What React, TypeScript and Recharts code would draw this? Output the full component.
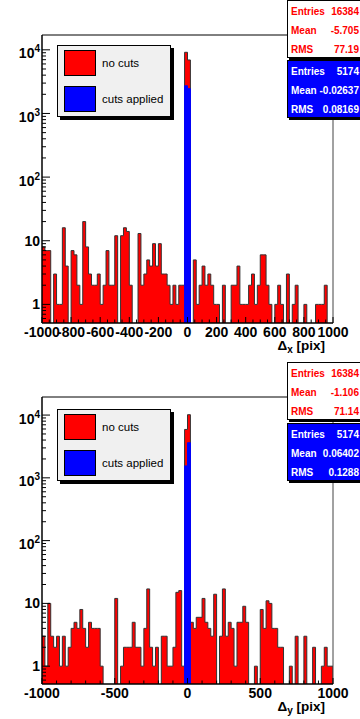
import React from 'react';
import { ComposedChart, Area, XAxis, YAxis, Legend, ReferenceLine } from 'recharts';

const FONT = '"Liberation Sans", Arial, Helvetica, sans-serif';
const RED = '#ff0000';
const BLUE = '#0000ff';

const X_MIN = -1000;
const X_MAX = 1000;
const BIN_WIDTH = 20;
const LOG_FLOOR = 0.1; // empty bins go below the axis and get clipped

// counts per 20 pix bin, -1000 .. 1000 (100 bins), no cuts
const dxNoCuts = [
  8, 7, 7, 0, 3, 1, 1, 16, 4, 0,
  7, 6, 2, 1, 20, 8, 3, 2, 2, 3,
  1, 2, 7, 2, 2, 12, 0, 12, 16, 14,
  2, 0, 0, 13, 2, 3, 5, 4, 9, 4,
  9, 3, 3, 2, 1, 2, 1, 2, 2, 9150,
  6925, 0, 5, 1, 2, 4, 2, 3, 2, 1,
  1, 0, 2, 0, 0, 2, 2, 4, 1, 1,
  1, 2, 3, 1, 2, 6, 6, 2, 1, 0,
  1, 2, 1, 0, 3, 0, 1, 2, 0, 0,
  1, 0, 0, 0, 1, 1, 1, 2, 0, 0,
];

const dyNoCuts = [
  3, 1, 10, 3, 2, 3, 1, 3, 1, 2,
  4, 5, 4, 8, 4, 2, 5, 4, 4, 4,
  1, 0, 0, 0, 0, 12, 0, 1, 2, 2,
  2, 5, 2, 2, 1, 4, 17, 2, 1, 2,
  0, 3, 3, 1, 1, 2, 15, 16, 1, 5900,
  10137, 5, 4, 6, 6, 12, 5, 4, 3, 14,
  0, 3, 17, 3, 5, 4, 1, 5, 5, 9,
  5, 0, 0, 1, 0, 8, 4, 11, 10, 4,
  4, 2, 2, 0, 0, 1, 0, 3, 0, 0,
  3, 0, 0, 2, 0, 0, 1, 2, 1, 1,
];

// with cuts all entries sit in the two bins next to 0
const cutBinLowEdges = [-20, 0];
const dxCutsApplied = [2720, 2454];
const dyCutsApplied = [1550, 3624];

const legendLabels = ['no cuts', 'cuts applied'];
const legendColors = [RED, BLUE];

const statLabels = ['Entries', 'Mean', 'RMS'];
const dxStatsNoCuts = ['16384', '-5.705', '77.19'];
const dxStatsCuts = ['5174', '-0.02637', '0.08169'];
const dyStatsNoCuts = ['16384', '-1.106', '71.14'];
const dyStatsCuts = ['5174', '0.06402', '0.1288'];

const yDecades = [1, 10, 100, 1000, 10000];
const dxMajorTicks = [-1000, -800, -600, -400, -200, 0, 200, 400, 600, 800, 1000];
const dyMajorTicks = [-1000, -500, 0, 500, 1000];

function buildRows(noCuts: number[], cuts: number[]) {
  const rows = noCuts.map((n, i) => {
    const low = X_MIN + i * BIN_WIDTH;
    const k = cutBinLowEdges.indexOf(low);
    return {
      x: low,
      noCuts: n > 0 ? n : LOG_FLOOR,
      cuts: k >= 0 ? cuts[k] : LOG_FLOOR,
    };
  });
  rows.push({ x: X_MAX, noCuts: LOG_FLOOR, cuts: LOG_FLOOR });
  return rows;
}

function logTicks(domain: number[]) {
  const out: number[] = [];
  [0.1, 1, 10, 100, 1000, 10000].forEach((d) => {
    for (let k = 1; k <= 9; k++) {
      const v = +(d * k).toPrecision(3);
      if (v >= domain[0] && v <= domain[1]) out.push(v);
    }
  });
  return out;
}

function linTicks(step: number) {
  const out: number[] = [];
  for (let v = X_MIN; v <= X_MAX; v += step) out.push(v);
  return out;
}

const YTick = (props: any) => {
  const { x, y, payload } = props;
  const v = payload.value;
  const major = yDecades.includes(v);
  const exp = Math.round(Math.log10(v));
  return (
    <g>
      <line x1={x} x2={x + (major ? 8 : 4)} y1={y} y2={y} stroke="#000" />
      {major && (
        <text
          x={x - 2}
          y={exp >= 2 ? y + 8.5 : y + 5}
          textAnchor="end"
          fontFamily={FONT}
          fontWeight="bold"
          fontSize={14}
          fill="#000"
        >
          {exp >= 2 ? (
            <>
              10
              <tspan dy={-6} fontSize={10}>
                {exp}
              </tspan>
            </>
          ) : (
            String(v)
          )}
        </text>
      )}
    </g>
  );
};

const XTick = (props: any) => {
  const { x, y, payload, majors } = props;
  const v = payload.value;
  const major = majors.includes(v);
  return (
    <g>
      <line x1={x} x2={x} y1={y} y2={y - (major ? 6 : 3.5)} stroke="#000" />
      {major && (
        <text
          x={x}
          y={y + 13.5}
          textAnchor="middle"
          fontFamily={FONT}
          fontWeight="bold"
          fontSize={14}
          fill="#000"
        >
          {v}
        </text>
      )}
    </g>
  );
};

const AxisTitle = (props: any) => {
  const { titleX, titleY, sub } = props;
  return (
    <text x={titleX} y={titleY} textAnchor="end" fontFamily={FONT} fontWeight="bold" fontSize={13.5} fill="#000">
      {'\u0394'}
      <tspan dy={3} fontSize={10}>
        {sub}
      </tspan>
      <tspan dy={-3}> [pix]</tspan>
    </text>
  );
};

const LegendBox = () => (
  <div
    style={{
      position: 'relative',
      width: 114,
      height: 72,
      background: '#f0f0f0',
      border: '1px solid #000',
      boxShadow: '3px 3px 0 #000',
      boxSizing: 'border-box',
      fontFamily: FONT,
    }}
  >
    {legendLabels.map((label, i) => (
      <div
        key={label}
        style={{
          position: 'absolute',
          left: 6,
          top: 4 + i * 36,
          height: 26,
          display: 'flex',
          alignItems: 'center',
        }}
      >
        <span
          style={{
            width: 32,
            height: 26,
            background: legendColors[i],
            border: '1px solid #000',
            boxSizing: 'border-box',
          }}
        />
        <span style={{ marginLeft: 6, fontSize: 11.5, color: '#000', whiteSpace: 'nowrap' }}>{label}</span>
      </div>
    ))}
  </div>
);

const StatBox = ({ top, values, fill, color }: { top: number; values: string[]; fill: string; color: string }) => (
  <div
    style={{
      position: 'absolute',
      left: 287,
      top,
      width: 76,
      height: 58,
      background: fill,
      border: '1px solid #000',
      boxShadow: '2px 2px 0 #000',
      boxSizing: 'border-box',
      color,
      fontFamily: FONT,
      fontWeight: 'bold',
      fontSize: 10,
    }}
  >
    {statLabels.map((label, i) => (
      <div
        key={label}
        style={{
          position: 'absolute',
          left: 3,
          right: 3,
          top: 4 + i * 19,
          height: 14,
          lineHeight: '14px',
          display: 'flex',
          justifyContent: 'space-between',
        }}
      >
        <span>{label}</span>
        <span>{values[i]}</span>
      </div>
    ))}
  </div>
);

const HistPanel = ({
  noCuts,
  cuts,
  majors,
  minorStep,
  yDomain,
  marginTop,
  axisHeight,
  sub,
  legendTop,
  statsNoCuts,
  statsCuts,
  statTops,
}: {
  noCuts: number[];
  cuts: number[];
  majors: number[];
  minorStep: number;
  yDomain: number[];
  marginTop: number;
  axisHeight: number;
  sub: string;
  legendTop: number;
  statsNoCuts: string[];
  statsCuts: string[];
  statTops: number[];
}) => {
  const rows = buildRows(noCuts, cuts);
  const plotBottom = 359 - axisHeight;
  return (
    <div style={{ position: 'relative', width: 360, height: 359 }}>
      <ComposedChart
        width={360}
        height={359}
        data={rows}
        margin={{ top: marginTop, right: 27, bottom: 0, left: 0 }}
      >
        <Area
          type="stepAfter"
          dataKey="noCuts"
          name="no cuts"
          fill={RED}
          fillOpacity={1}
          stroke="#333"
          strokeWidth={1}
          baseValue={yDomain[0]}
          dot={false}
          activeDot={false}
          isAnimationActive={false}
        />
        <Area
          type="stepAfter"
          dataKey="cuts"
          name="cuts applied"
          fill={BLUE}
          fillOpacity={1}
          stroke={BLUE}
          strokeWidth={1}
          baseValue={yDomain[0]}
          dot={false}
          activeDot={false}
          isAnimationActive={false}
        />
        <ReferenceLine y={yDomain[1]} stroke="#000" />
        <ReferenceLine x={X_MAX} stroke="#444" />
        <XAxis
          dataKey="x"
          type="number"
          domain={[X_MIN, X_MAX]}
          allowDataOverflow
          ticks={linTicks(minorStep)}
          interval={0}
          height={axisHeight}
          tickLine={false}
          tickSize={0}
          tickMargin={0}
          axisLine={{ stroke: '#000', strokeWidth: 1.5 }}
          tick={<XTick majors={majors} />}
          label={<AxisTitle titleX={325} titleY={plotBottom + 27} sub={sub} />}
        />
        <YAxis
          type="number"
          scale="log"
          domain={yDomain}
          allowDataOverflow
          ticks={logTicks(yDomain)}
          interval={0}
          width={42}
          tickLine={false}
          tickSize={0}
          tickMargin={0}
          axisLine={{ stroke: '#000', strokeWidth: 1.5 }}
          tick={<YTick />}
        />
        <Legend
          layout="vertical"
          align="center"
          verticalAlign="middle"
          wrapperStyle={{ left: 57, top: legendTop, width: 118, height: 76 }}
          content={() => <LegendBox />}
        />
      </ComposedChart>
      <StatBox top={statTops[0]} values={statsNoCuts} fill="#ffffff" color={RED} />
      <StatBox top={statTops[1]} values={statsCuts} fill={BLUE} color="#ffffff" />
    </div>
  );
};

export default function App() {
  return (
    <div style={{ position: 'absolute', left: 0, top: 0, width: 360, height: 719, background: '#fff' }}>
      <HistPanel
        noCuts={dxNoCuts}
        cuts={dxCutsApplied}
        majors={dxMajorTicks}
        minorStep={50}
        yDomain={[0.51, 17100]}
        marginTop={35}
        axisHeight={36}
        sub="x"
        legendTop={45}
        statsNoCuts={dxStatsNoCuts}
        statsCuts={dxStatsCuts}
        statTops={[0, 60]}
      />
      <div style={{ position: 'absolute', left: 0, top: 360 }}>
        <HistPanel
          noCuts={dyNoCuts}
          cuts={dyCutsApplied}
          majors={dyMajorTicks}
          minorStep={100}
          yDomain={[0.52, 19400]}
          marginTop={37}
          axisHeight={35}
          sub="y"
          legendTop={49}
          statsNoCuts={dyStatsNoCuts}
          statsCuts={dyStatsCuts}
          statTops={[2, 63]}
        />
      </div>
    </div>
  );
}
